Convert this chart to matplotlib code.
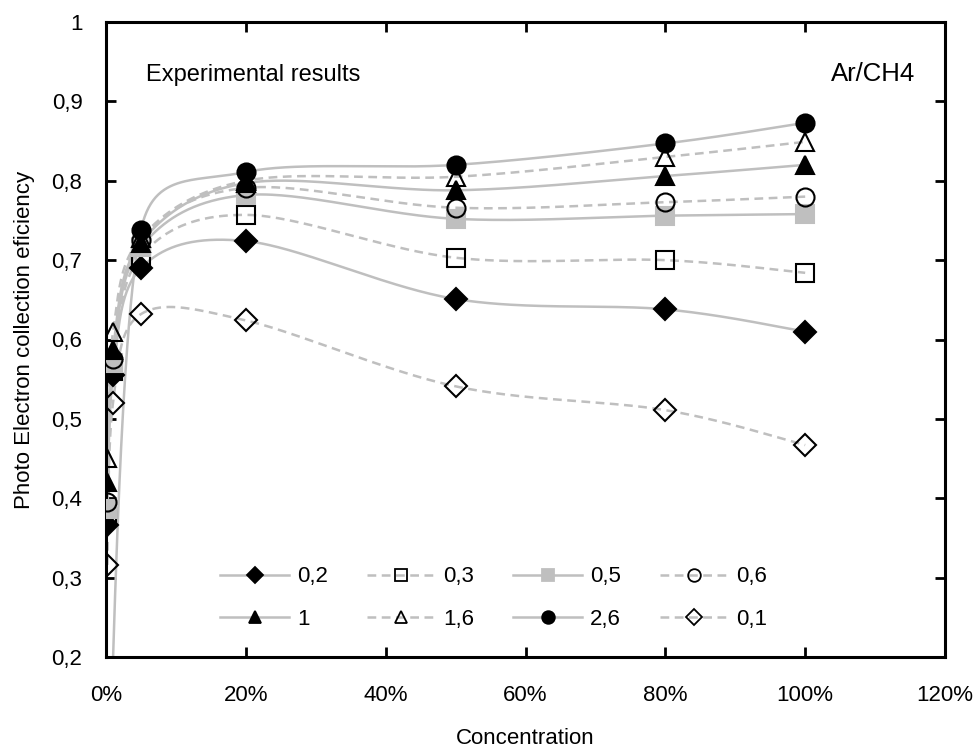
import numpy as np
import matplotlib
matplotlib.use("Agg")
import matplotlib.pyplot as plt
from matplotlib.lines import Line2D
from matplotlib.ticker import FuncFormatter, MultipleLocator

plt.rcParams['font.family'] = ['Liberation Sans', 'DejaVu Sans']

# concentration of CH4 in Ar (%)
conc = [0.2, 1, 5, 20, 50, 80, 100]
conc_26 = [0.2, 5, 20, 50, 80, 100]

# photo electron collection efficiency, one list per field value
eff_02 = [0.366, 0.555, 0.690, 0.724, 0.651, 0.638, 0.610]
eff_03 = [0.376, 0.560, 0.705, 0.757, 0.703, 0.700, 0.684]
eff_05 = [0.386, 0.570, 0.716, 0.782, 0.752, 0.756, 0.758]
eff_06 = [0.395, 0.575, 0.725, 0.791, 0.766, 0.773, 0.780]
eff_1 = [0.420, 0.587, 0.722, 0.797, 0.788, 0.806, 0.820]
eff_16 = [0.451, 0.609, 0.728, 0.800, 0.805, 0.830, 0.849]
eff_26 = [0.0, 0.738, 0.811, 0.820, 0.847, 0.873]
eff_01 = [0.316, 0.520, 0.632, 0.624, 0.541, 0.511, 0.467]

labels = ['0,2', '0,3', '0,5', '0,6', '1', '1,6', '2,6', '0,1']

GRAY = '#bfbfbf'


def excel_smooth(ax, x, y, n=60):
    ''' smoothed line like the spreadsheet one (bezier, tension 1/6, capped) '''
    pts = ax.transData.transform(np.column_stack([x, y]))
    m = len(pts)
    out = [pts[0]]
    t = np.linspace(0, 1, n)[1:, None]
    for i in range(m - 1):
        p0 = pts[i - 1] if i > 0 else pts[i]
        p1, p2 = pts[i], pts[i + 1]
        p3 = pts[i + 2] if i + 2 < m else pts[i + 1]
        d12 = np.hypot(*(p2 - p1))
        d02 = np.hypot(*(p2 - p0))
        d13 = np.hypot(*(p3 - p1))
        f1 = 1 / 6.0 if d02 / 6.0 < d12 / 2.0 else d12 / (2.0 * d02)
        f2 = 1 / 6.0 if d13 / 6.0 < d12 / 2.0 else d12 / (2.0 * d13)
        c1 = p1 + (p2 - p0) * f1
        c2 = p2 - (p3 - p1) * f2
        seg = ((1 - t) ** 3 * p1 + 3 * (1 - t) ** 2 * t * c1
               + 3 * (1 - t) * t ** 2 * c2 + t ** 3 * p2)
        out.extend(seg)
    out = ax.transData.inverted().transform(np.array(out))
    return out[:, 0], out[:, 1]


fig = plt.figure(figsize=(9.77, 7.53), dpi=100)
ax = fig.add_axes([106 / 977, 1 - 657 / 753, (945 - 106) / 977, (657 - 22) / 753])
ax.set_xlim(0, 120)
ax.set_ylim(0.2, 1.0)

series = [
    (conc, eff_02, '-', 'D', 'black', 'black', 11),
    (conc, eff_03, '--', 's', 'none', 'black', 13),
    (conc, eff_05, '-', 's', GRAY, GRAY, 13),
    (conc, eff_06, '--', 'o', 'none', 'black', 13),
    (conc, eff_1, '-', '^', 'black', 'black', 13),
    (conc, eff_16, '--', '^', 'none', 'black', 13),
    (conc_26, eff_26, '-', 'o', 'black', 'black', 13),
    (conc, eff_01, '--', 'D', 'none', 'black', 11),
]

handles = []
for k, (xs, ys, ls, mk, fc, ec, ms) in enumerate(series):
    sx, sy = excel_smooth(ax, xs, ys)
    dash = (0, (3.5, 2.2)) if ls == '--' else '-'
    ax.plot(sx, sy, color=GRAY, lw=1.8, linestyle=dash, zorder=2)
    ax.plot(xs, ys, linestyle='none', marker=mk, ms=ms, mfc=fc, mec=ec,
            mew=1.5, zorder=3 + k)
    handles.append(Line2D([], [], color=GRAY, lw=1.8, linestyle=dash, marker=mk,
                          ms=ms * 0.7, mfc=fc, mec=ec, mew=1.3))

ax.xaxis.set_major_locator(MultipleLocator(20))
ax.yaxis.set_major_locator(MultipleLocator(0.1))
ax.xaxis.set_major_formatter(FuncFormatter(lambda v, p: '%d%%' % round(v)))
ax.yaxis.set_major_formatter(FuncFormatter(
    lambda v, p: '1' if abs(v - 1) < 1e-6 else ('%.1f' % v).replace('.', ',')))
ax.tick_params(direction='in', length=7, width=2, labelsize=16,
               top=True, right=True)
ax.tick_params(axis='x', pad=20)
ax.tick_params(axis='y', pad=17)
for sp in ax.spines.values():
    sp.set_linewidth(2.2)

ax.set_xlabel('Concentration', fontsize=16, labelpad=16)
ax.set_ylabel('Photo Electron collection eficiency', fontsize=16, labelpad=12)

ax.text(0.048, 0.916, 'Experimental results', transform=ax.transAxes,
        fontsize=17, va='center', ha='left')
ax.text(0.964, 0.918, 'Ar/CH4', transform=ax.transAxes,
        fontsize=18.5, va='center', ha='right')

# legend is filled column by column: reorder so rows read like the original
order = [0, 4, 1, 5, 2, 6, 3, 7]
lx, ly = ax.transAxes.inverted().transform(
    fig.transFigure.transform((494 / 977, 1 - 598 / 753)))
ax.legend([handles[i] for i in order], [labels[i] for i in order], ncol=4,
          loc='center', bbox_to_anchor=(lx, ly), frameon=False, fontsize=16,
          handlelength=3.1, handletextpad=0.35, columnspacing=1.75,
          labelspacing=0.95)

fig.savefig('out.png', dpi=100)
